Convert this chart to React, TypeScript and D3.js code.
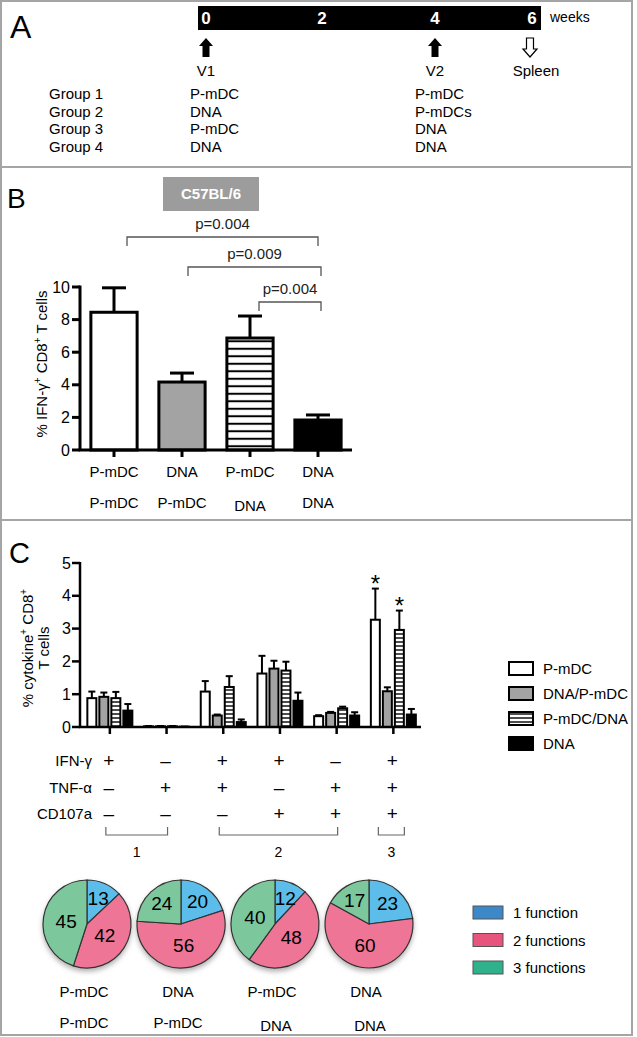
import React from "react";
import * as d3 from "d3";

const FONT = "'Liberation Sans', Arial, Helvetica, sans-serif";

// ---------- Panel A data ----------
const timelineWeeks = [0, 2, 4, 6];
const timelinePos = [206, 322, 435, 532];
const visitLabels = ["V1", "V2", "Spleen"];
const visitWeeks = [0, 4, 6];
const visitKinds = ["up", "up", "down"];
const groupNames = ["Group 1", "Group 2", "Group 3", "Group 4"];
const primeVaccine = ["P-mDC", "DNA", "P-mDC", "DNA"];
const boostVaccine = ["P-mDC", "P-mDCs", "DNA", "DNA"];

// ---------- Panel B data ----------
const bPrime = ["P-mDC", "DNA", "P-mDC", "DNA"];
const bBoost = ["P-mDC", "P-mDC", "DNA", "DNA"];
const bMeans = [8.45, 4.17, 6.87, 1.84];
const bSem = [1.5, 0.55, 1.35, 0.31];
const bFills = ["white", "gray", "stripe", "black"];
const bTicks = [0, 2, 4, 6, 8, 10];
const bCompareFrom = [0, 1, 2];
const bCompareTo = [3, 3, 3];
const bPValues = ["p=0.004", "p=0.009", "p=0.004"];

// ---------- Panel C data ----------
const cSeries = ["P-mDC", "DNA/P-mDC", "P-mDC/DNA", "DNA"];
const cFills = ["white", "gray", "stripe", "black"];
const cMeans = [
  [0.88, 0.02, 1.08, 1.63, 0.33, 3.27],
  [0.92, 0.02, 0.35, 1.78, 0.43, 1.09],
  [0.88, 0.02, 1.22, 1.72, 0.57, 2.96],
  [0.5, 0.01, 0.15, 0.8, 0.35, 0.38],
];
const cSem = [
  [0.2, 0.01, 0.32, 0.54, 0.03, 0.95],
  [0.13, 0.01, 0.03, 0.24, 0.03, 0.12],
  [0.19, 0.01, 0.33, 0.27, 0.05, 0.59],
  [0.2, 0.0, 0.08, 0.25, 0.1, 0.17],
];
const cTicks = [0, 1, 2, 3, 4, 5];
const ifnSigns = ["+", "–", "+", "+", "–", "+"];
const tnfSigns = ["–", "+", "+", "–", "+", "+"];
const cd107Signs = ["–", "–", "–", "+", "+", "+"];
const markerNames = ["IFN-γ", "TNF-α", "CD107a"];
const funcGroupFirst = [0, 2, 5];
const funcGroupLast = [1, 4, 5];
const funcGroupLabels = ["1", "2", "3"];
const starSeries = [0, 2];
const starGroup = [5, 5];

// ---------- Pies ----------
const pieFunctions = ["1 function", "2 functions", "3 functions"];
const pieValues = [
  [13, 42, 45],
  [20, 56, 24],
  [12, 48, 40],
  [23, 60, 17],
];
const piePrime = ["P-mDC", "DNA", "P-mDC", "DNA"];
const pieBoost = ["P-mDC", "P-mDC", "DNA", "DNA"];
const pieColors = ["#5BBDEA", "#EE7595", "#7CC79C"];
const pieLegendColors = ["#3D88C8", "#E8557C", "#2FB28C"];

const fillFor = (f: string, pat: string) =>
  f === "white" ? "#ffffff" : f === "gray" ? "#a3a3a3" : f === "black" ? "#000000" : `url(#${pat})`;

export default function App() {
  // ---- Panel A scales
  const xWeek = d3.scaleLinear().domain(timelineWeeks).range(timelinePos);
  const yGroup = d3.scalePoint<number>().domain([0, 1, 2, 3]).range([99, 152]);

  // ---- Panel B scales
  const yB = d3.scaleLinear().domain([0, 10]).range([450, 287]);
  const xB = d3
    .scaleBand<number>()
    .domain([0, 1, 2, 3])
    .range([80, 352])
    .paddingInner(0.32)
    .paddingOuter(0.16);
  const cB = (i: number) => (xB(i) as number) + xB.bandwidth() / 2;

  // ---- Panel C scales
  const yC = d3.scaleLinear().domain([0, 5]).range([727, 563]);
  const xC = d3.scaleBand<number>().domain([0, 1, 2, 3, 4, 5]).range([81.5, 421.7]);
  const cC = (g: number) => (xC(g) as number) + xC.bandwidth() / 2;
  const xInner = d3
    .scaleBand<number>()
    .domain([0, 1, 2, 3])
    .range([-24, 24])
    .paddingInner(0.25)
    .paddingOuter(0.125);
  const rowY = d3.scalePoint<number>().domain([0, 1, 2]).range([766, 819]);

  // ---- Pies
  const xPie = d3.scaleBand<number>().domain([0, 1, 2, 3]).range([40, 416]);
  const pieCx = (i: number) => (xPie(i) as number) + xPie.bandwidth() / 2;
  const pieCy = 924;
  const R = 44;
  const pie = d3.pie<number>().sort(null).value((d) => d);
  const arc = d3.arc<d3.PieArcDatum<number>>().innerRadius(0).outerRadius(R);

  const signRows = [ifnSigns, tnfSigns, cd107Signs];

  return (
    <div style={{ position: "absolute", left: 0, top: 0 }}>
      <svg width={637} height={1037} style={{ display: "block" }} fontFamily={FONT}>
        <defs>
          <pattern id="stripeB" patternUnits="userSpaceOnUse" width={10} height={7.5}>
            <rect width={10} height={7.5} fill="#fff" />
            <line x1={0} x2={10} y1={3.75} y2={3.75} stroke="#000" strokeWidth={2} />
          </pattern>
          <pattern id="stripeC" patternUnits="userSpaceOnUse" width={10} height={4}>
            <rect width={10} height={4} fill="#fff" />
            <line x1={0} x2={10} y1={2} y2={2} stroke="#000" strokeWidth={1.4} />
          </pattern>
          <filter id="pieShadow" x="-20%" y="-20%" width="140%" height="150%">
            <feDropShadow dx={0} dy={3} stdDeviation={2.5} floodColor="#000" floodOpacity={0.3} />
          </filter>
        </defs>

        {/* frame */}
        <rect x={1} y={1} width={631} height={1034} fill="none" stroke="#a5a5a5" strokeWidth={2} />
        <line x1={1} x2={632} y1={167} y2={167} stroke="#a5a5a5" strokeWidth={2} />
        <line x1={1} x2={632} y1={520} y2={520} stroke="#a5a5a5" strokeWidth={2} />

        {/* ================= Panel A ================= */}
        <text x={10} y={38} fontSize={32}>A</text>
        <rect x={198} y={6} width={343} height={24} fill="#000" />
        {timelineWeeks.map((w) => (
          <text key={w} x={xWeek(w)} y={24} fill="#fff" fontSize={17} fontWeight="bold" textAnchor="middle">
            {w}
          </text>
        ))}
        <text x={550} y={22} fontSize={14}>weeks</text>
        {visitLabels.map((lab, i) => {
          const x = xWeek(visitWeeks[i]) + (visitKinds[i] === "down" ? -2 : 0);
          const up = `M${x},38 L${x + 7},46 L${x + 3.5},46 L${x + 3.5},57 L${x - 3.5},57 L${x - 3.5},46 L${x - 7},46 Z`;
          const down = `M${x},57 L${x + 7},49 L${x + 3.5},49 L${x + 3.5},38 L${x - 3.5},38 L${x - 3.5},49 L${x - 7},49 Z`;
          return (
            <g key={lab}>
              {visitKinds[i] === "up" ? (
                <path d={up} fill="#000" />
              ) : (
                <path d={down} fill="#fff" stroke="#000" strokeWidth={1.2} />
              )}
              <text x={x + (visitKinds[i] === "down" ? 6 : 0)} y={76} fontSize={15} textAnchor="middle">
                {lab}
              </text>
            </g>
          );
        })}
        {groupNames.map((g, i) => (
          <g key={g} fontSize={15}>
            <text x={49} y={yGroup(i)}>{g}</text>
            <text x={190} y={yGroup(i)}>{primeVaccine[i]}</text>
            <text x={415} y={yGroup(i)}>{boostVaccine[i]}</text>
          </g>
        ))}

        {/* ================= Panel B ================= */}
        <text x={7} y={208} fontSize={28}>B</text>
        <rect x={163} y={177} width={96} height={34} fill="#9c9c9c" />
        <text x={211} y={199} fill="#fff" fontSize={15} fontWeight="bold" textAnchor="middle">
          C57BL/6
        </text>
        {bPValues.map((p, k) => {
          const levels = [237, 267, 302];
          const x1 = cB(bCompareFrom[k]) + [13, 6, 9][k];
          const x2 = cB(bCompareTo[k]) + [0, 3, 3][k];
          const yTop = levels[k];
          return (
            <g key={k}>
              <path
                d={`M${x1},${yTop + 9} V${yTop} H${x2} V${yTop + 9}`}
                fill="none"
                stroke="#555"
                strokeWidth={1.3}
              />
              <text x={(x1 + x2) / 2} y={yTop - 8} fontSize={15} textAnchor="middle" fill="#222">
                {p}
              </text>
            </g>
          );
        })}
        {/* y axis */}
        <line x1={80} x2={80} y1={yB(10) - 1.5} y2={yB(0)} stroke="#000" strokeWidth={3} />
        {bTicks.map((t) => (
          <g key={t}>
            <line x1={72} x2={80} y1={yB(t)} y2={yB(t)} stroke="#000" strokeWidth={3} />
            <text x={70} y={yB(t) + 5.5} fontSize={16} textAnchor="end">{t}</text>
          </g>
        ))}
        <text transform={`translate(47,${364}) rotate(-90)`} fontSize={15} textAnchor="middle">
          % IFN-γ<tspan dy={-6} fontSize={10}>+</tspan>
          <tspan dy={6}> CD8</tspan>
          <tspan dy={-6} fontSize={10}>+</tspan>
          <tspan dy={6}> T cells</tspan>
        </text>
        {/* bars */}
        {bMeans.map((m, i) => {
          const x = xB(i) as number;
          const w = xB.bandwidth();
          const cx = cB(i);
          const eTop = yB(m + bSem[i]);
          return (
            <g key={i}>
              <line x1={cx} x2={cx} y1={yB(m)} y2={eTop} stroke="#000" strokeWidth={3} />
              <line x1={cx - 12} x2={cx + 12} y1={eTop} y2={eTop} stroke="#000" strokeWidth={3} />
              <rect
                x={x}
                y={yB(m)}
                width={w}
                height={yB(0) - yB(m)}
                fill={fillFor(bFills[i], "stripeB")}
                stroke="#000"
                strokeWidth={3}
              />
            </g>
          );
        })}
        <line x1={78.5} x2={352} y1={yB(0)} y2={yB(0)} stroke="#000" strokeWidth={3} />
        {bMeans.map((_, i) => (
          <line key={i} x1={cB(i)} x2={cB(i)} y1={yB(0)} y2={yB(0) + 7} stroke="#000" strokeWidth={3} />
        ))}
        {bPrime.map((lab, i) => (
          <g key={i} fontSize={15} textAnchor="middle">
            <text x={cB(i)} y={477}>{lab}</text>
            <text x={cB(i)} y={i === 2 ? 511 : 508}>{bBoost[i]}</text>
          </g>
        ))}

        {/* ================= Panel C ================= */}
        <text x={9} y={563} fontSize={29}>C</text>
        <line x1={80} x2={80} y1={yC(5) - 1} y2={yC(0)} stroke="#000" strokeWidth={2.5} />
        {cTicks.map((t) => (
          <g key={t}>
            <line x1={72} x2={80} y1={yC(t)} y2={yC(t)} stroke="#000" strokeWidth={2.5} />
            <text x={71} y={yC(t) + 5.5} fontSize={16} textAnchor="end">{t}</text>
          </g>
        ))}
        <g transform={`translate(0,${648}) rotate(-90)`} fontSize={15} textAnchor="middle">
          <text x={0} y={33}>
            % cytokine<tspan dy={-6} fontSize={10}>+</tspan>
            <tspan dy={6}> CD8</tspan>
            <tspan dy={-6} fontSize={10}>+</tspan>
          </text>
          <text x={0} y={49}>T cells</text>
        </g>
        {cMeans.map((series, s) =>
          series.map((m, g) => {
            const cx = cC(g) + (xInner(s) as number) + xInner.bandwidth() / 2;
            const w = xInner.bandwidth();
            const eTop = yC(m + cSem[s][g]);
            return (
              <g key={`${s}-${g}`}>
                <line x1={cx} x2={cx} y1={yC(m)} y2={eTop} stroke="#000" strokeWidth={2} />
                <line x1={cx - 3.5} x2={cx + 3.5} y1={eTop} y2={eTop} stroke="#000" strokeWidth={2} />
                <rect
                  x={cx - w / 2}
                  y={yC(m)}
                  width={w}
                  height={Math.max(0, yC(0) - yC(m))}
                  fill={fillFor(cFills[s], "stripeC")}
                  stroke="#000"
                  strokeWidth={2}
                />
              </g>
            );
          })
        )}
        {starSeries.map((s, k) => {
          const g = starGroup[k];
          const cx = cC(g) + (xInner(s) as number) + xInner.bandwidth() / 2;
          const eTop = yC(cMeans[s][g] + cSem[s][g]);
          return (
            <text key={k} x={cx} y={eTop + 3} fontSize={24} textAnchor="middle">*</text>
          );
        })}
        <line x1={79} x2={421} y1={yC(0)} y2={yC(0)} stroke="#000" strokeWidth={2.5} />
        {cMeans[0].map((_, g) => (
          <line key={g} x1={cC(g)} x2={cC(g)} y1={yC(0)} y2={yC(0) + 7} stroke="#000" strokeWidth={2.5} />
        ))}
        {/* marker rows */}
        {markerNames.map((name, r) => (
          <g key={name}>
            <text x={92} y={rowY(r)} fontSize={15} textAnchor="end">{name}</text>
            {signRows[r].map((sgn, g) => (
              <text key={g} x={cC(g) - 1} y={rowY(r) + 1} fontSize={19} textAnchor="middle">
                {sgn}
              </text>
            ))}
          </g>
        ))}
        {funcGroupLabels.map((lab, k) => {
          const single = funcGroupFirst[k] === funcGroupLast[k];
          const x1 = single ? cC(funcGroupFirst[k]) - 15 : cC(funcGroupFirst[k]) - 4;
          const x2 = single ? cC(funcGroupLast[k]) + 11 : cC(funcGroupLast[k]) + 1;
          return (
            <g key={lab}>
              <path d={`M${x1},827 V835 H${x2} V827`} fill="none" stroke="#666" strokeWidth={1.2} />
              <text x={(x1 + x2) / 2} y={857} fontSize={14} textAnchor="middle">{lab}</text>
            </g>
          );
        })}
        {/* legend C */}
        {cSeries.map((name, s) => {
          const y = 662 + s * 25;
          return (
            <g key={name}>
              <rect x={509} y={y} width={24} height={13} fill={fillFor(cFills[s], "stripeC")} stroke="#000" strokeWidth={2} />
              <text x={543} y={y + 12} fontSize={15}>{name}</text>
            </g>
          );
        })}

        {/* ================= Pies ================= */}
        {pieValues.map((vals, i) => {
          const arcs = pie(vals);
          return (
            <g key={i} transform={`translate(${pieCx(i)},${pieCy})`}>
              <g filter="url(#pieShadow)">
                {arcs.map((a, k) => (
                  <path key={k} d={arc(a) as string} fill={pieColors[k]} stroke="#333" strokeWidth={1.2} />
                ))}
              </g>
              {arcs.map((a, k) => {
                const mid = (a.startAngle + a.endAngle) / 2;
                const rr = a.data < 30 ? 0.64 * R : 0.48 * R;
                return (
                  <text
                    key={k}
                    x={Math.sin(mid) * rr}
                    y={-Math.cos(mid) * rr + 7}
                    fontSize={19}
                    textAnchor="middle"
                  >
                    {a.data}
                  </text>
                );
              })}
            </g>
          );
        })}
        {piePrime.map((lab, i) => (
          <g key={i} fontSize={15} textAnchor="middle">
            <text x={pieCx(i) - 3} y={997}>{lab}</text>
            <text x={pieCx(i) - 3 + (pieBoost[i] === "DNA" ? 4 : 0)} y={pieBoost[i] === "DNA" ? 1031 : 1028}>
              {pieBoost[i]}
            </text>
          </g>
        ))}
        {pieFunctions.map((name, k) => {
          const y = 906 + k * 27.5;
          return (
            <g key={name}>
              <rect x={473} y={y} width={30} height={13} fill={pieLegendColors[k]} stroke="#555" strokeWidth={1} />
              <text x={513} y={y + 12} fontSize={15}>{name}</text>
            </g>
          );
        })}
      </svg>
    </div>
  );
}
